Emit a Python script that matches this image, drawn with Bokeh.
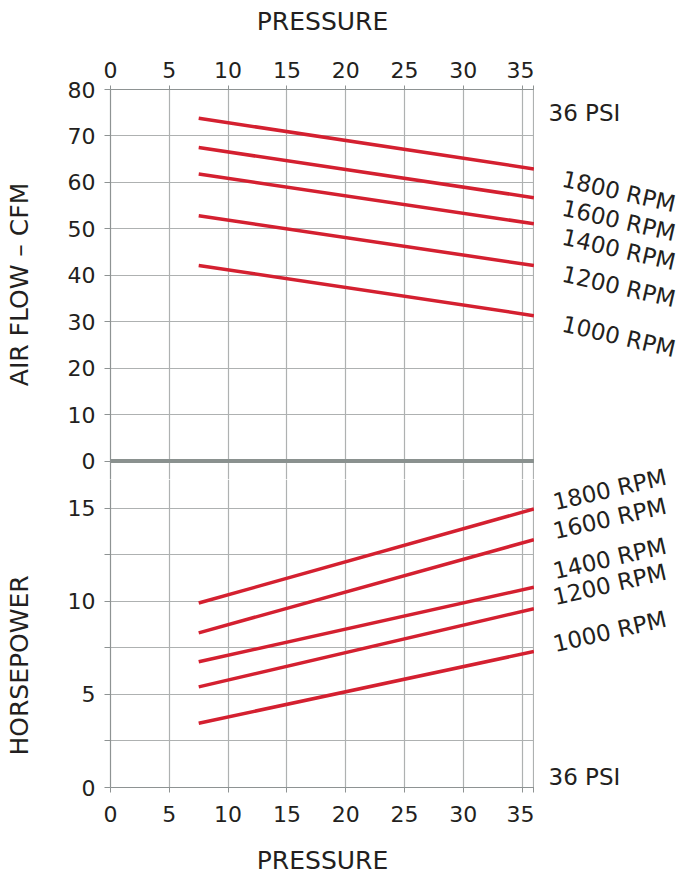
import math
from bokeh.plotting import figure
from bokeh.models import FixedTicker, Span, Range1d
from bokeh.layouts import column, row
from bokeh.core.properties import value
from bokeh.embed import file_html
from bokeh.resources import INLINE

# ---------------- data ----------------
pressure = [7.5, 36]                      # psi, start / end of each curve
rpm_labels = ["1800 RPM", "1600 RPM", "1400 RPM", "1200 RPM", "1000 RPM"]
airflow_1800 = [73.8, 62.9]
airflow_1600 = [67.5, 56.7]
airflow_1400 = [61.8, 51.1]
airflow_1200 = [52.8, 42.1]
airflow_1000 = [42.1, 31.3]
hp_1800 = [9.9, 14.95]
hp_1600 = [8.3, 13.3]
hp_1400 = [6.75, 10.75]
hp_1200 = [5.4, 9.6]
hp_1000 = [3.45, 7.3]
x_ticks = [0, 5, 10, 15, 20, 25, 30, 35]
x_end = [36]
airflow_ticks = [0, 10, 20, 30, 40, 50, 60, 70, 80]
hp_ticks = [0, 5, 10, 15]
hp_minor_ticks = [2.5, 7.5, 12.5]
psi_text = "36 PSI"
x_title = "PRESSURE"
airflow_title = "AIR FLOW \u2013 CFM"
hp_title = "HORSEPOWER"

airflow = [airflow_1800, airflow_1600, airflow_1400, airflow_1200, airflow_1000]
hp = [hp_1800, hp_1600, hp_1400, hp_1200, hp_1000]

# ---------------- style / layout ----------------
RED = "#d42030"
GRID = "#aeb1b1"
AXIS = "#8e9393"
ZERO = "#8a918f"
TXT = "#231f20"
FONT = "DejaVu Sans"
H = 882            # total height
H1 = 479           # top figure height
LW = 40            # left title strip
RW = 147           # right label strip
PW = 494           # plot column width (frame 110 -> 534)


def style(p):
    p.background_fill_color = "white"
    p.border_fill_color = "white"
    p.outline_line_color = None
    for ax in p.axis:
        ax.axis_line_color = AXIS
        ax.axis_line_width = 1.2
        ax.major_tick_line_color = AXIS
        ax.minor_tick_line_color = AXIS
        ax.major_tick_in = 0
        ax.minor_tick_in = 0
        ax.major_label_text_font = FONT
        ax.major_label_text_font_size = "22px"
        ax.major_label_text_color = TXT
        ax.axis_label_text_font = FONT
        ax.axis_label_text_font_size = "25px"
        ax.axis_label_text_font_style = "normal"
        ax.axis_label_text_color = TXT
    for g in p.grid:
        g.grid_line_color = GRID
        g.grid_line_width = 1.2


def strip(width):
    s = figure(width=width, height=H, x_range=Range1d(0, width), y_range=Range1d(0, H),
               x_axis_type=None, y_axis_type=None, output_backend="svg",
               toolbar_location=None, min_border=0)
    s.outline_line_color = None
    s.grid.visible = False
    s.background_fill_color = "white"
    s.border_fill_color = "white"
    return s


def put(s, texts, xs, tops, angle=0.0, align="left", size="23px"):
    # positions given in pixels from the top-left of the strip
    s.text(x=xs, y=[H - t for t in tops], text=texts, angle=angle,
           text_align=align, text_baseline="middle", text_font=value(FONT),
           text_font_size=size, text_color=TXT)


# ---------------- top panel: air flow ----------------
p1 = figure(width=PW, height=H1, x_range=Range1d(0, 36.05), y_range=Range1d(-3.98, 80),
            x_axis_location="above", output_backend="svg", toolbar_location=None,
            min_border_left=70, min_border_right=0,
            min_border_top=89, min_border_bottom=0)
xt1 = FixedTicker(ticks=x_ticks, minor_ticks=x_end)
p1.xaxis.ticker = xt1
p1.xgrid.ticker = xt1
yt1 = FixedTicker(ticks=airflow_ticks)
p1.yaxis.ticker = yt1
p1.ygrid.ticker = yt1
style(p1)
p1.xgrid.minor_grid_line_color = GRID
p1.xgrid.minor_grid_line_width = 1.2
p1.xaxis.major_tick_out = 4
p1.xaxis.minor_tick_out = 4
p1.xaxis.major_label_standoff = 8
p1.xaxis.axis_label = x_title
p1.xaxis.axis_label_standoff = 23
p1.yaxis.major_tick_out = 6
p1.yaxis.major_label_standoff = 9

for ys in airflow:
    p1.line(pressure, ys, line_color=RED, line_width=3.5)
p1.add_layout(Span(location=0, dimension="width", line_color=ZERO, line_width=4))

# ---------------- bottom panel: horsepower ----------------
p2 = figure(width=PW, height=H - H1, x_range=Range1d(0, 36.05), y_range=Range1d(0, 16.53),
            x_axis_location="below", output_backend="svg", toolbar_location=None,
            min_border_left=70, min_border_right=0,
            min_border_top=0, min_border_bottom=H - H1 - 308)
xt2 = FixedTicker(ticks=x_ticks, minor_ticks=x_end)
p2.xaxis.ticker = xt2
p2.xgrid.ticker = xt2
yt2 = FixedTicker(ticks=hp_ticks, minor_ticks=hp_minor_ticks)
p2.yaxis.ticker = yt2
p2.ygrid.ticker = yt2
style(p2)
p2.xgrid.minor_grid_line_color = GRID
p2.xgrid.minor_grid_line_width = 1.2
p2.ygrid.minor_grid_line_color = GRID
p2.ygrid.minor_grid_line_width = 1.2
p2.xaxis.major_tick_out = 5
p2.xaxis.minor_tick_out = 5
p2.xaxis.major_label_standoff = 13
p2.xaxis.axis_label = x_title
p2.xaxis.axis_label_standoff = 21
p2.yaxis.major_tick_out = 6
p2.yaxis.minor_tick_out = 6
p2.yaxis.major_label_standoff = 9

for ys in hp:
    p2.line(pressure, ys, line_color=RED, line_width=3.5)

# ---------------- left strip: axis titles ----------------
left = strip(LW)
put(left, [airflow_title], [19], [284], angle=math.pi / 2, align="center", size="25px")
put(left, [hp_title], [19], [665], angle=math.pi / 2, align="center", size="25px")

# ---------------- right strip: curve labels ----------------
right = strip(RW)
put(right, [psi_text], [14], [112])
put(right, [psi_text], [14], [776])
put(right, rpm_labels, [28] * 5, [178, 207, 236, 273, 323], angle=-math.radians(13))
put(right, rpm_labels, [19] * 5, [502, 531, 571, 597, 644], angle=math.radians(13))

layout = row(left, column(p1, p2, spacing=0), right, spacing=0)
open("out.html", "w").write(file_html(layout, INLINE))
